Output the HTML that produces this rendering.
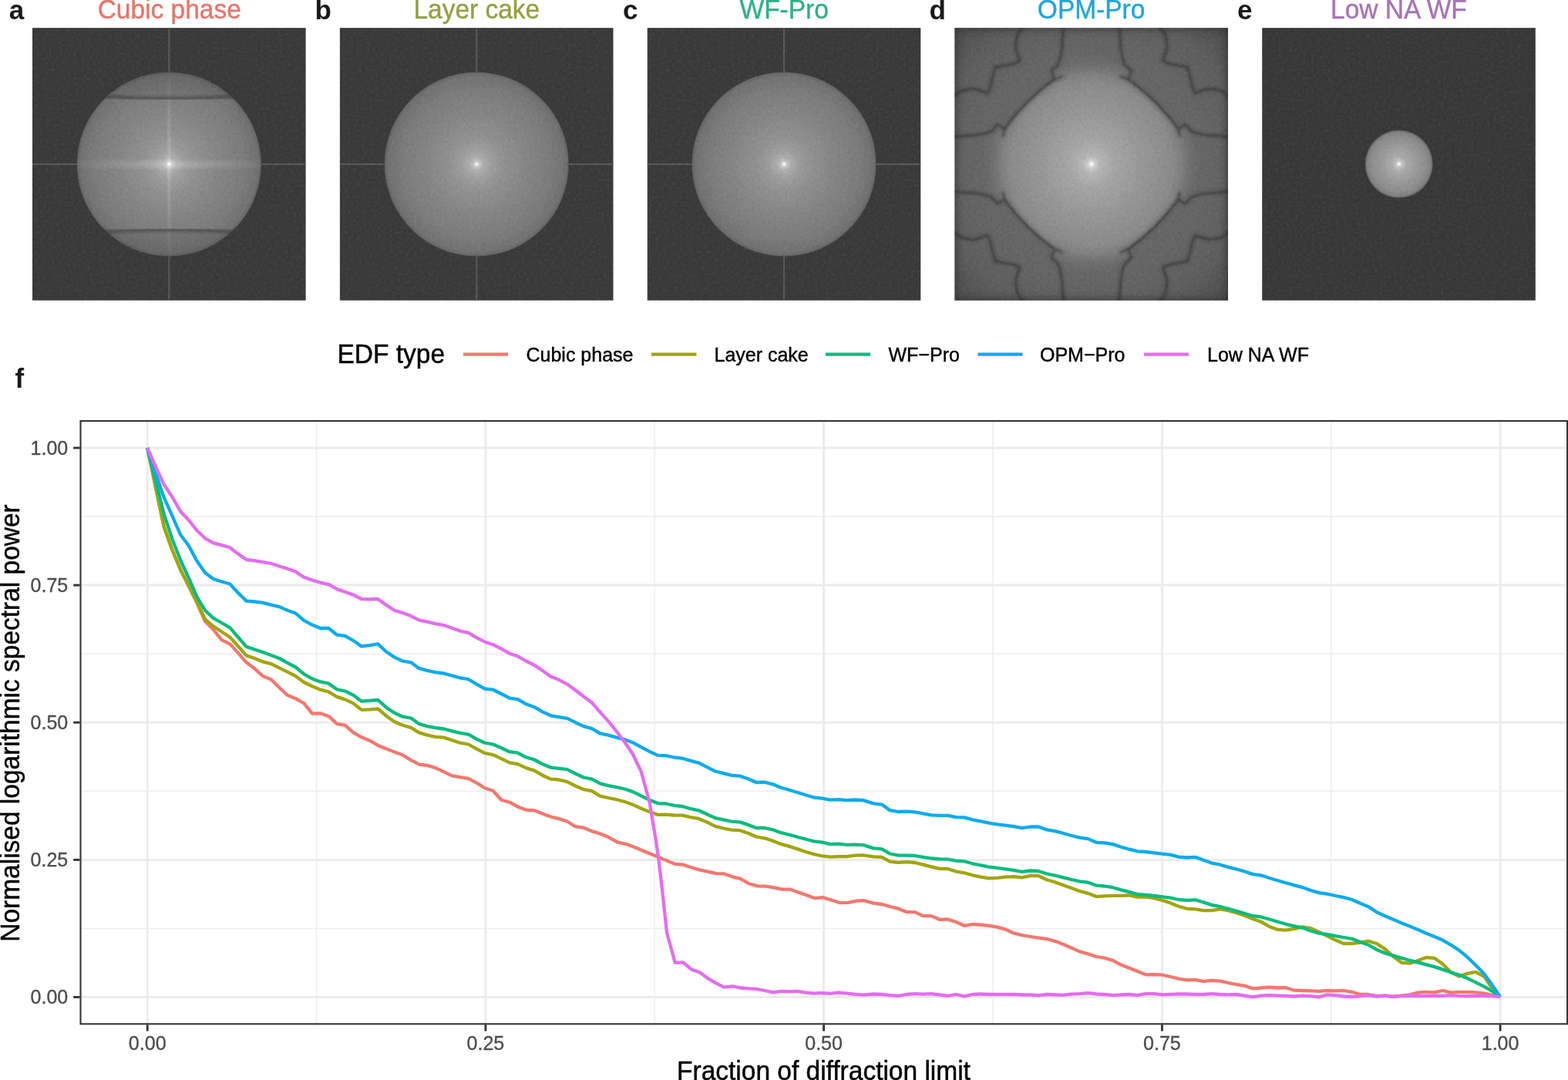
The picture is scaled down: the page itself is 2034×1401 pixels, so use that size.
<!DOCTYPE html>
<html lang="en"><head><meta charset="utf-8"><title>EDF spectral power</title>
<style>html,body{margin:0;padding:0;background:#fff;}body{width:2034px;height:1401px;overflow:hidden;font-family:"Liberation Sans",sans-serif;}svg{display:block;}text{font-family:"Liberation Sans",sans-serif;}</style></head><body>
<svg width="2034" height="1401" viewBox="0 0 2034 1401">
<defs>
<filter id="grain" x="0" y="0" width="100%" height="100%" color-interpolation-filters="sRGB">
<feTurbulence type="fractalNoise" baseFrequency="0.28" numOctaves="2" seed="7" result="n"/>
<feColorMatrix in="n" type="matrix" values="0 0 0 0 0  0 0 0 0 0  0 0 0 0 0  0.13 0 0 0 -0.057" result="dark"/>
<feColorMatrix in="n" type="matrix" values="0 0 0 0 1  0 0 0 0 1  0 0 0 0 1  0 -0.13 0 0 0.071" result="light"/>
<feMerge><feMergeNode in="dark"/><feMergeNode in="light"/></feMerge>
</filter>
<filter id="b1" x="-20%" y="-20%" width="140%" height="140%"><feGaussianBlur stdDeviation="0.8"/></filter>
<filter id="b2" x="-20%" y="-20%" width="140%" height="140%"><feGaussianBlur stdDeviation="2.2"/></filter>
<filter id="b5" x="-20%" y="-20%" width="140%" height="140%"><feGaussianBlur stdDeviation="5"/></filter>
<filter id="b9" x="-30%" y="-30%" width="160%" height="160%"><feGaussianBlur stdDeviation="9"/></filter>
<radialGradient id="gA" cx="0.5" cy="0.5" r="0.5">
<stop offset="0" stop-color="#ffffff"/>
<stop offset="0.012" stop-color="#f0f0f0"/>
<stop offset="0.03" stop-color="#c8c8c8"/>
<stop offset="0.07" stop-color="#b0b0b0"/>
<stop offset="0.16" stop-color="#9e9e9e"/>
<stop offset="0.32" stop-color="#909090"/>
<stop offset="0.55" stop-color="#868686"/>
<stop offset="0.8" stop-color="#7c7c7c"/>
<stop offset="0.95" stop-color="#737373"/>
<stop offset="0.985" stop-color="#6a6a6a"/>
<stop offset="1" stop-color="#585858"/>
</radialGradient>
<radialGradient id="gD" gradientUnits="userSpaceOnUse" cx="177.3" cy="176.8" r="142">
<stop offset="0.0000" stop-color="#ffffff" stop-opacity="1"/>
<stop offset="0.0141" stop-color="#f0f0f0" stop-opacity="1"/>
<stop offset="0.0352" stop-color="#cecece" stop-opacity="1"/>
<stop offset="0.0845" stop-color="#b6b6b6" stop-opacity="1"/>
<stop offset="0.2113" stop-color="#a6a6a6" stop-opacity="1"/>
<stop offset="0.4225" stop-color="#9a9a9a" stop-opacity="1"/>
<stop offset="0.6338" stop-color="#909090" stop-opacity="1"/>
<stop offset="0.7465" stop-color="#8a8a8a" stop-opacity="1"/>
<stop offset="0.8169" stop-color="#868686" stop-opacity="0.82"/>
<stop offset="0.8873" stop-color="#808080" stop-opacity="0.45"/>
<stop offset="0.9437" stop-color="#7c7c7c" stop-opacity="0.18"/>
<stop offset="1.0000" stop-color="#787878" stop-opacity="0"/>
</radialGradient>
<radialGradient id="gDbg" gradientUnits="userSpaceOnUse" cx="177.3" cy="176.8" r="250">
<stop offset="0" stop-color="#6a6a6a"/>
<stop offset="0.6" stop-color="#666666"/>
<stop offset="0.8" stop-color="#5e5e5e"/>
<stop offset="1" stop-color="#4c4c4c"/>
</radialGradient>
<radialGradient id="gE" cx="0.5" cy="0.5" r="0.5">
<stop offset="0" stop-color="#ffffff"/>
<stop offset="0.03" stop-color="#efefef"/>
<stop offset="0.09" stop-color="#c4c4c4"/>
<stop offset="0.22" stop-color="#acacac"/>
<stop offset="0.5" stop-color="#9c9c9c"/>
<stop offset="0.8" stop-color="#8e8e8e"/>
<stop offset="0.94" stop-color="#828282"/>
<stop offset="1" stop-color="#5c5c5c"/>
</radialGradient>
<linearGradient id="hStreak" x1="0" x2="1" y1="0" y2="0">
<stop offset="0" stop-color="#fff" stop-opacity="0.03"/>
<stop offset="0.5" stop-color="#fff" stop-opacity="0.2"/>
<stop offset="1" stop-color="#fff" stop-opacity="0.03"/>
</linearGradient>
<linearGradient id="vStreak" x1="0" x2="0" y1="0" y2="1">
<stop offset="0" stop-color="#fff" stop-opacity="0.03"/>
<stop offset="0.5" stop-color="#fff" stop-opacity="0.2"/>
<stop offset="1" stop-color="#fff" stop-opacity="0.03"/>
</linearGradient>
<clipPath id="clipA"><circle cx="177.3" cy="176.8" r="119.6"/></clipPath>
<clipPath id="clipSq"><rect x="0" y="0" width="354.6" height="353.5"/></clipPath>
<g id="veinHalf" fill="none" stroke-linejoin="round" stroke-linecap="round">
<path d="M62.8,139.4 L64.6,131.8 A290,290 0 0 1 130.2,66.7 L139.4,62.8"/>
<path d="M130.2,66.7 L125.6,55.6 L134.2,47.7 L137.5,37.2 L139.4,24.1 L140.1,10.9 L141.4,0"/>
<path d="M64.6,131.8 L55.6,125.6 L47.7,134.2 L37.2,137.5 L24.1,139.4 L10.9,140.1 L0,141.4"/>
<path d="M52.8,50.8 L65.9,48.4 L76.4,46.4 L84.3,43.1 L83,37.2 L80.3,30.6 L79,24.1 L80.3,13.6 L83,5.7 L88.2,0"/>
<path d="M52.8,50.8 L48.4,65.9 L46.4,76.4 L43.1,84.3 L37.2,83 L30.6,80.3 L24.1,79 L13.6,80.3 L5.7,83 L0,88.2"/>
</g>
<g id="veinQuad">
<use href="#veinHalf" stroke="#202020" stroke-width="6" opacity="0.22" filter="url(#b2)"/>
<use href="#veinHalf" stroke="#242424" stroke-width="1.3" opacity="0.6" filter="url(#b1)"/>
</g>
<clipPath id="clipD"><path d="M24.1,139.4 L37.2,137.5 L47.7,134.2 L55.6,125.6 L64.6,131.8 A290,290 0 0 1 130.2,66.7 L125.6,55.6 L134.2,47.7 L137.5,37.2 L139.4,24.1 L215.2,24.1 L217.1,37.2 L220.4,47.7 L229.0,55.6 L224.4,66.7 A290,290 0 0 1 290.0,131.8 L299.0,125.6 L306.9,134.2 L317.4,137.5 L330.5,139.4 L330.5,214.2 L317.4,216.1 L306.9,219.4 L299.0,228.0 L290.0,221.8 A290,290 0 0 1 224.4,286.9 L229.0,298.0 L220.4,305.9 L217.1,316.4 L215.2,329.5 L139.4,329.5 L137.5,316.4 L134.2,305.9 L125.6,298.0 L130.2,286.9 A290,290 0 0 1 64.6,221.8 L55.6,228.0 L47.7,219.4 L37.2,216.1 L24.1,214.2 Z"/></clipPath>
</defs>

<rect width="2034" height="1401" fill="#fff"/>
<g id="panel-labels" font-weight="bold" font-size="35" fill="#1a1a1a">
<text x="11.8" y="24.6">a</text>
<text x="408.5" y="24.6">b</text>
<text x="808" y="24.6">c</text>
<text x="1205.5" y="24.6">d</text>
<text x="1605" y="24.6">e</text>
<text x="19.5" y="503.2">f</text>
</g>
<g id="panel-titles" font-size="33.5" text-anchor="middle" stroke-width="0.4">
<text transform="translate(219.7,24.2) scale(1,1.05)" fill="#E8756B" stroke="#E8756B">Cubic phase</text>
<text transform="translate(618.3,24.2) scale(1,1.05)" fill="#95A044" stroke="#95A044">Layer cake</text>
<text transform="translate(1017.2,24.2) scale(1,1.05)" fill="#2FB087" stroke="#2FB087">WF-Pro</text>
<text transform="translate(1415.6,24.2) scale(1,1.05)" fill="#1FA6D9" stroke="#1FA6D9">OPM-Pro</text>
<text transform="translate(1814.4,24.2) scale(1,1.05)" fill="#A674B3" stroke="#A674B3">Low NA WF</text>
</g>
<g id="imgA" transform="translate(42,36.2)">
<rect width="354.6" height="353.5" fill="#3a3a3a"/>
<line x1="177.3" x2="177.3" y1="0" y2="353.5" stroke="#5a5a5a" stroke-width="2"/>
<line y1="176.8" y2="176.8" x1="0" x2="354.6" stroke="#5a5a5a" stroke-width="2"/>
<circle cx="177.3" cy="176.8" r="119.6" fill="url(#gA)"/>
<g clip-path="url(#clipA)">
<rect x="57" y="172.5" width="241" height="9" fill="url(#hStreak)" filter="url(#b2)"/>
<rect x="175.3" y="57" width="4" height="240" fill="url(#vStreak)" filter="url(#b1)"/>
<path d="M55,56 H300 V88 Q177.3,96 55,88 Z" fill="#000" opacity="0.08"/>
<path d="M55,297 H300 V265.5 Q177.3,257.5 55,265.5 Z" fill="#000" opacity="0.08"/>
<path d="M66,87 Q177.3,96 289,87" fill="none" stroke="#3c3c3c" stroke-width="5" opacity="0.5" filter="url(#b2)"/>
<path d="M66,266.5 Q177.3,257.5 289,266.5" fill="none" stroke="#3c3c3c" stroke-width="5" opacity="0.5" filter="url(#b2)"/>
<path d="M66,86.5 Q120,92 177.3,92" fill="none" stroke="#444" stroke-width="1.6" opacity="0.5" filter="url(#b1)"/>
<path d="M289,86.5 Q235,92 177.3,92" fill="none" stroke="#444" stroke-width="1.6" opacity="0.5" filter="url(#b1)"/>
<path d="M66,267 Q120,261.5 177.3,261.5" fill="none" stroke="#444" stroke-width="1.6" opacity="0.5" filter="url(#b1)"/>
<path d="M289,267 Q235,261.5 177.3,261.5" fill="none" stroke="#444" stroke-width="1.6" opacity="0.5" filter="url(#b1)"/>
</g>
<rect width="354.6" height="353.5" filter="url(#grain)"/>
</g>
<g id="imgB" transform="translate(440.9,36.2)">
<rect width="354.6" height="353.5" fill="#3a3a3a"/>
<line x1="177.3" x2="177.3" y1="0" y2="353.5" stroke="#5a5a5a" stroke-width="2"/>
<line y1="176.8" y2="176.8" x1="0" x2="354.6" stroke="#5a5a5a" stroke-width="2"/>
<circle cx="177.3" cy="176.8" r="119.6" fill="url(#gA)"/>
<rect width="354.6" height="353.5" filter="url(#grain)"/>
</g>
<g id="imgC" transform="translate(839.7,36.2)">
<rect width="354.6" height="353.5" fill="#3a3a3a"/>
<line x1="177.3" x2="177.3" y1="0" y2="353.5" stroke="#5a5a5a" stroke-width="2"/>
<line y1="176.8" y2="176.8" x1="0" x2="354.6" stroke="#5a5a5a" stroke-width="2"/>
<circle cx="177.3" cy="176.8" r="119.6" fill="url(#gA)"/>
<rect width="354.6" height="353.5" filter="url(#grain)"/>
</g>
<g id="imgD" transform="translate(1238.4,36.2)">
<rect width="354.6" height="353.5" fill="url(#gDbg)"/>
<g clip-path="url(#clipSq)">
<g clip-path="url(#clipD)"><circle cx="177.3" cy="176.8" r="142" fill="url(#gD)"/></g>
<rect x="-6" y="-6" width="366.6" height="365.5" fill="none" stroke="#262626" stroke-width="17" opacity="0.55" filter="url(#b5)"/>
<use href="#veinQuad"/>
<use href="#veinQuad" transform="translate(354.6,0) scale(-1,1)"/>
<use href="#veinQuad" transform="translate(0,353.6) scale(1,-1)"/>
<use href="#veinQuad" transform="translate(354.6,353.6) scale(-1,-1)"/>
</g>
<rect width="354.6" height="353.5" filter="url(#grain)"/>
</g>
<g id="imgE" transform="translate(1637.2,36.2)">
<rect width="354.6" height="353.5" fill="#383838"/>
<circle cx="177.5" cy="176.6" r="44" fill="url(#gE)"/>
<rect width="354.6" height="353.5" filter="url(#grain)"/>
</g>

<g id="legend">
<text transform="translate(437.5,470.8) scale(1,1.04)" font-size="33.5" fill="#000" stroke="#000" stroke-width="0.45">EDF type</text>
<g stroke-width="4.3" fill="none">
<line x1="601" x2="659" y1="459.7" y2="459.7" stroke="#F4776E"/>
<line x1="845" x2="903.5" y1="459.7" y2="459.7" stroke="#A2A50C"/>
<line x1="1071" x2="1129" y1="459.7" y2="459.7" stroke="#0ABC7D"/>
<line x1="1268.5" x2="1326.5" y1="459.7" y2="459.7" stroke="#0AADF2"/>
<line x1="1484" x2="1542" y1="459.7" y2="459.7" stroke="#E46CF0"/>
</g>
<g font-size="25" fill="#000" stroke="#000" stroke-width="0.4">
<text transform="translate(682.5,468.6) scale(1,1.04)">Cubic phase</text>
<text transform="translate(926.5,468.6) scale(1,1.04)">Layer cake</text>
<text transform="translate(1152.5,468.6) scale(1,1.04)">WF−Pro</text>
<text transform="translate(1349,468.6) scale(1,1.04)">OPM−Pro</text>
<text transform="translate(1566,468.6) scale(1,1.04)">Low NA WF</text>
</g>
</g>

<g id="chart">
<line x1="410.6" x2="410.6" y1="545.5" y2="1329.4" stroke="#EEEEEE" stroke-width="1.5"/>
<line y1="1204.4" y2="1204.4" x1="103.8" x2="2034.1" stroke="#EEEEEE" stroke-width="1.5"/>
<line x1="849.3" x2="849.3" y1="545.5" y2="1329.4" stroke="#EEEEEE" stroke-width="1.5"/>
<line y1="1026.3" y2="1026.3" x1="103.8" x2="2034.1" stroke="#EEEEEE" stroke-width="1.5"/>
<line x1="1288.0" x2="1288.0" y1="545.5" y2="1329.4" stroke="#EEEEEE" stroke-width="1.5"/>
<line y1="848.2" y2="848.2" x1="103.8" x2="2034.1" stroke="#EEEEEE" stroke-width="1.5"/>
<line x1="1726.7" x2="1726.7" y1="545.5" y2="1329.4" stroke="#EEEEEE" stroke-width="1.5"/>
<line y1="670.1" y2="670.1" x1="103.8" x2="2034.1" stroke="#EEEEEE" stroke-width="1.5"/>
<line x1="191.2" x2="191.2" y1="545.5" y2="1329.4" stroke="#ECECEC" stroke-width="3"/>
<line y1="1293.5" y2="1293.5" x1="103.8" x2="2034.1" stroke="#ECECEC" stroke-width="3"/>
<line x1="629.9" x2="629.9" y1="545.5" y2="1329.4" stroke="#ECECEC" stroke-width="3"/>
<line y1="1115.4" y2="1115.4" x1="103.8" x2="2034.1" stroke="#ECECEC" stroke-width="3"/>
<line x1="1068.6" x2="1068.6" y1="545.5" y2="1329.4" stroke="#ECECEC" stroke-width="3"/>
<line y1="937.2" y2="937.2" x1="103.8" x2="2034.1" stroke="#ECECEC" stroke-width="3"/>
<line x1="1507.4" x2="1507.4" y1="545.5" y2="1329.4" stroke="#ECECEC" stroke-width="3"/>
<line y1="759.1" y2="759.1" x1="103.8" x2="2034.1" stroke="#ECECEC" stroke-width="3"/>
<line x1="1946.1" x2="1946.1" y1="545.5" y2="1329.4" stroke="#ECECEC" stroke-width="3"/>
<line y1="581.0" y2="581.0" x1="103.8" x2="2034.1" stroke="#ECECEC" stroke-width="3"/>
<polyline points="191.2,581.0 201.9,632.0 212.6,683.0 223.3,713.0 234.0,738.7 244.7,760.0 255.4,782.0 266.1,806.2 276.8,816.8 287.6,830.1 298.2,835.4 308.8,846.9 319.6,859.3 330.3,867.3 340.9,877.0 351.7,881.4 362.3,892.0 372.9,901.8 383.5,906.2 394.3,912.4 405.0,925.7 415.6,925.3 426.4,929.2 437.0,938.9 447.6,940.9 458.2,950.1 468.8,956.3 479.6,960.7 490.3,966.9 500.9,971.3 511.7,975.4 522.3,979.3 532.9,985.8 543.7,991.7 554.3,992.9 565.0,996.1 575.6,1001.1 586.4,1006.4 597.0,1008.1 607.6,1009.9 618.4,1015.6 629.0,1022.3 639.6,1025.8 650.3,1037.7 661.1,1040.7 671.7,1046.5 682.3,1050.6 693.1,1051.3 703.7,1055.4 714.3,1059.5 725.0,1062.1 735.8,1065.5 746.4,1072.2 757.0,1073.6 767.8,1078.4 778.4,1081.4 789.0,1085.8 801.2,1092.7 811.9,1094.8 822.5,1098.7 833.1,1103.3 843.7,1107.5 854.3,1112.1 865.0,1116.4 875.6,1120.8 886.2,1121.7 896.8,1125.2 907.4,1128.4 918.1,1130.7 928.7,1133.2 939.3,1133.4 949.9,1137.3 960.5,1139.9 972.0,1146.5 982.7,1149.3 993.3,1149.6 1003.9,1151.4 1014.5,1153.7 1025.1,1153.7 1035.8,1157.6 1046.4,1161.2 1057.0,1165.2 1067.6,1164.2 1079.1,1167.7 1089.7,1171.2 1100.4,1170.9 1111.0,1168.6 1120.7,1168.2 1133.1,1171.6 1143.9,1173.0 1154.5,1176.0 1165.3,1178.7 1175.9,1183.1 1186.7,1183.1 1197.3,1188.1 1208.1,1188.1 1218.8,1192.8 1229.4,1192.5 1240.2,1196.0 1250.8,1200.8 1261.6,1199.0 1272.2,1199.6 1283.0,1200.8 1293.6,1202.6 1304.4,1205.6 1315.0,1210.5 1325.8,1213.2 1336.5,1215.0 1347.3,1216.7 1357.9,1218.0 1368.5,1220.8 1379.3,1225.0 1389.9,1229.6 1400.7,1234.4 1411.3,1237.4 1422.1,1241.0 1432.7,1242.7 1443.5,1245.9 1454.2,1251.6 1465.0,1255.7 1475.6,1260.1 1486.2,1264.3 1497.0,1264.2 1507.6,1264.7 1518.4,1267.0 1529.0,1269.6 1539.8,1271.4 1550.4,1270.9 1561.2,1273.2 1571.9,1271.8 1582.7,1272.7 1593.3,1275.0 1604.1,1277.1 1614.7,1278.8 1625.3,1282.4 1636.1,1281.5 1646.7,1280.6 1657.5,1281.5 1668.1,1281.2 1678.9,1284.7 1689.6,1285.0 1700.2,1285.4 1711.0,1285.9 1721.6,1285.0 1732.4,1285.4 1743.0,1285.0 1753.8,1286.8 1764.4,1290.0 1775.2,1290.0 1785.9,1292.1 1796.7,1291.6 1807.3,1292.7 1818.1,1291.6 1828.7,1290.4 1839.3,1287.7 1850.1,1286.8 1860.7,1287.3 1871.5,1285.0 1882.1,1287.7 1892.9,1286.8 1903.6,1286.8 1914.4,1287.3 1925.0,1288.6 1935.8,1291.2 1946.1,1293.2" fill="none" stroke="#F4776E" stroke-width="4.3" stroke-linejoin="round" stroke-linecap="butt"/>
<polyline points="191.2,581.0 201.9,632.0 212.6,683.0 223.3,713.0 234.0,738.7 244.7,759.8 255.4,781.0 266.1,803.5 276.8,812.4 287.6,819.5 298.2,826.5 308.8,838.1 319.6,850.4 330.3,854.0 340.9,858.4 351.7,861.1 362.3,866.4 372.9,871.7 383.5,877.0 394.3,885.0 405.0,890.3 415.6,894.7 426.4,897.3 437.0,903.9 447.6,907.4 458.4,912.4 469.0,920.9 479.6,920.4 490.3,919.5 501.1,928.7 511.7,936.3 522.3,940.7 533.1,943.9 543.5,950.4 554.3,953.6 565.0,955.8 575.6,956.6 586.4,960.2 597.0,963.7 607.6,965.5 618.4,971.7 629.0,977.0 639.6,979.1 650.3,984.1 661.1,989.4 671.7,991.2 682.3,996.1 693.1,999.6 703.7,1005.7 714.3,1010.6 725.0,1011.5 735.8,1014.2 746.4,1019.5 757.0,1023.9 767.8,1026.2 778.4,1032.7 789.0,1035.0 799.6,1037.2 810.4,1040.0 821.1,1043.9 831.7,1048.8 842.5,1053.1 853.1,1056.8 863.7,1056.6 874.3,1057.5 885.1,1057.7 895.8,1060.2 906.4,1061.9 917.2,1066.5 927.8,1071.9 938.4,1074.5 949.2,1076.6 959.8,1077.2 970.4,1080.7 981.1,1085.5 991.9,1087.3 1002.5,1090.8 1013.1,1094.9 1023.9,1097.9 1034.5,1101.4 1045.1,1105.0 1055.8,1108.1 1066.5,1110.3 1077.2,1111.7 1087.8,1111.2 1098.6,1111.2 1109.2,1109.7 1119.8,1109.4 1133.1,1111.4 1143.9,1111.8 1154.5,1117.6 1165.3,1118.8 1175.9,1118.1 1186.7,1119.0 1197.3,1121.7 1208.1,1124.3 1218.8,1126.8 1229.4,1127.0 1240.2,1130.5 1250.8,1132.3 1261.6,1135.3 1272.2,1137.6 1283.0,1139.4 1293.6,1138.8 1304.4,1137.6 1315.0,1137.1 1325.8,1138.3 1336.5,1136.2 1347.3,1136.2 1357.9,1141.2 1368.5,1144.2 1379.3,1148.2 1389.9,1152.1 1400.7,1156.0 1411.3,1158.8 1422.1,1163.1 1432.7,1162.4 1443.5,1161.9 1454.2,1161.9 1465.0,1161.3 1475.6,1163.6 1486.2,1163.5 1497.0,1165.2 1507.6,1167.9 1518.4,1171.4 1529.0,1175.8 1539.8,1178.8 1550.4,1179.4 1561.2,1181.2 1571.9,1181.2 1582.7,1179.4 1593.3,1181.2 1604.1,1184.2 1614.7,1187.7 1625.3,1192.1 1636.1,1196.0 1646.7,1201.9 1657.5,1205.9 1668.1,1206.6 1678.9,1204.9 1689.6,1202.4 1700.2,1204.2 1711.0,1208.9 1721.6,1214.2 1732.4,1219.6 1743.0,1224.0 1753.8,1224.0 1764.4,1222.6 1775.2,1220.8 1785.9,1224.0 1796.7,1231.1 1807.3,1240.8 1818.1,1248.8 1828.7,1249.6 1839.3,1246.1 1850.1,1242.0 1860.7,1242.9 1871.5,1250.5 1882.1,1261.2 1892.9,1266.5 1903.6,1262.9 1914.4,1260.8 1925.0,1266.5 1935.8,1282.4 1946.1,1293.2" fill="none" stroke="#A2A50C" stroke-width="4.3" stroke-linejoin="round" stroke-linecap="butt"/>
<polyline points="191.2,581.0 201.9,623.5 212.6,666.5 223.3,699.0 234.0,726.3 244.7,749.5 255.4,774.0 266.1,792.0 276.8,801.8 287.6,808.0 298.2,814.2 308.8,826.5 319.6,838.9 330.3,842.5 340.9,846.0 351.7,850.1 362.3,854.0 372.9,859.8 383.5,865.5 394.3,874.3 405.0,880.5 415.6,884.4 426.4,886.7 437.0,894.3 447.6,896.5 458.4,901.8 469.0,909.7 479.6,908.8 490.3,908.0 501.1,917.7 511.7,924.8 522.3,929.7 533.1,931.5 543.5,938.9 554.3,942.1 565.0,944.2 575.6,945.5 586.4,948.3 597.0,950.8 607.6,952.6 618.4,958.8 629.0,963.7 639.6,965.5 650.3,970.3 661.1,975.2 671.7,976.6 682.3,982.3 693.1,985.5 703.7,991.2 714.3,995.6 725.0,996.8 735.8,998.2 746.4,1003.5 757.0,1008.5 767.8,1010.6 778.4,1016.3 789.0,1019.1 799.6,1021.2 810.4,1023.5 821.1,1027.1 831.7,1032.4 842.5,1037.7 853.1,1042.1 863.7,1042.5 874.3,1044.8 885.1,1046.0 895.8,1049.2 906.4,1051.3 917.2,1056.3 927.8,1061.1 938.4,1063.4 949.2,1065.7 959.8,1066.4 970.4,1069.9 981.1,1074.0 991.9,1074.0 1002.5,1076.3 1013.1,1080.2 1023.9,1082.8 1034.5,1085.8 1045.1,1088.5 1055.8,1091.3 1066.5,1092.6 1077.2,1095.2 1087.8,1094.7 1098.6,1095.8 1109.2,1095.6 1119.8,1096.1 1133.1,1100.4 1143.9,1101.3 1154.5,1107.5 1165.3,1109.6 1175.9,1109.6 1186.7,1110.0 1197.3,1111.8 1208.1,1113.5 1218.8,1114.4 1229.4,1114.6 1240.2,1116.7 1250.8,1117.3 1261.6,1120.3 1272.2,1122.4 1283.0,1124.7 1293.6,1125.9 1304.4,1127.3 1315.0,1128.8 1325.8,1130.9 1336.5,1129.5 1347.3,1130.0 1357.9,1133.5 1368.5,1135.7 1379.3,1138.3 1389.9,1141.0 1400.7,1143.3 1411.3,1144.7 1422.1,1148.6 1432.7,1149.5 1443.5,1151.2 1454.2,1154.4 1465.0,1157.1 1475.6,1160.1 1486.2,1160.8 1497.0,1162.0 1507.6,1163.3 1518.4,1164.7 1529.0,1167.0 1539.8,1167.9 1550.4,1167.3 1561.2,1170.4 1571.9,1173.9 1582.7,1176.2 1593.3,1178.8 1604.1,1181.9 1614.7,1185.0 1625.3,1188.2 1636.1,1189.5 1646.7,1192.5 1657.5,1195.7 1668.1,1198.8 1678.9,1201.3 1689.6,1203.6 1700.2,1207.5 1711.0,1210.7 1721.6,1212.1 1732.4,1214.2 1743.0,1216.0 1753.8,1217.8 1764.4,1221.9 1775.2,1225.8 1785.9,1231.9 1796.7,1236.4 1807.3,1239.6 1818.1,1242.9 1828.7,1245.8 1839.3,1248.4 1850.1,1251.4 1860.7,1254.1 1871.5,1257.6 1882.1,1261.2 1892.9,1264.7 1903.6,1269.1 1914.4,1274.4 1925.0,1279.7 1935.8,1285.9 1946.1,1293.2" fill="none" stroke="#0ABC7D" stroke-width="4.3" stroke-linejoin="round" stroke-linecap="butt"/>
<polyline points="191.2,581.0 201.9,613.8 212.6,645.2 223.3,668.8 234.0,693.5 244.7,707.8 255.4,727.8 266.1,743.1 276.8,751.0 287.6,754.5 298.2,757.5 308.8,769.0 319.6,779.6 330.3,780.5 340.9,781.8 351.7,784.6 362.3,787.1 372.9,791.7 383.5,795.6 394.3,804.8 405.0,810.6 415.6,815.0 426.4,815.0 437.0,823.5 447.6,824.8 458.4,831.0 469.0,838.4 479.6,837.2 490.3,835.4 501.1,845.5 511.7,852.6 522.3,857.5 533.1,859.3 543.5,866.9 554.3,869.9 565.0,872.2 575.6,873.5 586.4,876.5 597.0,879.3 607.6,881.1 618.4,887.6 629.0,893.5 639.6,894.7 650.3,900.0 661.1,905.7 671.7,907.1 682.3,913.3 693.1,917.2 703.7,923.4 714.3,928.3 725.0,930.1 735.8,931.9 746.4,937.2 757.0,942.1 767.8,945.1 778.4,951.3 789.0,953.6 799.6,956.6 810.4,959.3 821.1,963.4 831.7,969.2 842.5,974.9 853.1,979.8 863.7,980.2 874.3,982.5 885.1,983.7 895.8,986.9 906.4,989.6 917.2,995.2 927.8,1000.5 938.4,1003.2 949.2,1005.8 959.8,1006.7 970.4,1010.3 981.1,1015.0 991.9,1014.7 1002.5,1017.3 1013.1,1021.8 1023.9,1024.8 1034.5,1028.0 1045.1,1031.2 1055.8,1034.5 1066.5,1035.6 1077.2,1037.7 1087.8,1037.2 1098.6,1038.1 1109.2,1037.5 1119.8,1038.1 1133.1,1042.4 1143.9,1043.6 1154.5,1051.2 1165.3,1053.0 1175.9,1052.7 1186.7,1053.4 1197.3,1055.3 1208.1,1057.4 1218.8,1057.8 1229.4,1057.8 1240.2,1060.1 1250.8,1060.4 1261.6,1063.3 1272.2,1065.4 1283.0,1067.7 1293.6,1069.3 1304.4,1070.7 1315.0,1072.1 1325.8,1074.2 1336.5,1072.5 1347.3,1072.5 1357.9,1076.4 1368.5,1078.1 1379.3,1081.0 1389.9,1084.0 1400.7,1086.6 1411.3,1088.1 1422.1,1092.8 1432.7,1093.4 1443.5,1095.1 1454.2,1098.7 1465.0,1101.7 1475.6,1104.3 1486.2,1105.0 1497.0,1106.3 1507.6,1107.7 1518.4,1108.9 1529.0,1111.6 1539.8,1112.5 1550.4,1111.9 1561.2,1115.7 1571.9,1119.6 1582.7,1121.7 1593.3,1124.9 1604.1,1127.5 1614.7,1130.5 1625.3,1134.1 1636.1,1135.5 1646.7,1139.0 1657.5,1142.2 1668.1,1145.2 1678.9,1148.4 1689.6,1151.1 1700.2,1155.0 1711.0,1158.1 1721.6,1159.7 1732.4,1162.0 1743.0,1164.2 1753.8,1167.0 1764.4,1171.8 1775.2,1176.2 1785.9,1183.3 1796.7,1188.2 1807.3,1192.7 1818.1,1197.4 1828.7,1201.5 1839.3,1205.9 1850.1,1210.7 1860.7,1215.1 1871.5,1219.6 1882.1,1225.8 1892.9,1232.8 1903.6,1241.7 1914.4,1252.3 1925.0,1262.9 1935.8,1278.0 1946.1,1293.2" fill="none" stroke="#0CABEE" stroke-width="4.3" stroke-linejoin="round" stroke-linecap="butt"/>
<polyline points="191.2,581.0 202.1,605.7 212.8,628.8 223.5,644.9 234.2,663.5 245.0,674.9 255.7,688.5 266.4,698.5 276.8,704.4 287.6,707.1 298.2,710.3 308.8,718.6 319.6,726.0 330.3,727.4 340.9,729.2 351.7,731.0 362.3,734.5 372.9,737.7 383.5,741.6 394.3,748.7 405.0,752.6 415.6,755.8 426.4,758.1 437.0,764.1 447.6,767.8 458.4,771.7 469.0,777.0 479.6,777.3 490.3,777.0 501.1,785.0 511.7,791.7 522.3,795.0 533.1,799.1 543.5,804.4 554.3,806.7 565.0,809.2 575.6,811.0 586.4,814.7 597.0,818.6 607.6,820.9 618.4,827.4 629.0,832.7 639.6,836.3 650.3,841.6 661.1,847.8 671.7,851.3 682.3,857.5 693.1,862.8 703.7,869.9 714.3,877.5 725.0,881.8 735.8,887.6 746.4,895.2 757.0,903.5 767.8,911.5 778.4,923.9 789.0,935.4 799.6,948.7 810.4,962.8 821.1,978.8 831.7,1000.9 842.5,1040.4 850.8,1089.9 854.3,1114.2 857.9,1144.3 861.4,1176.2 865.0,1209.8 870.3,1229.3 875.6,1248.8 886.2,1248.4 896.8,1257.6 907.4,1261.2 918.1,1269.1 928.7,1275.3 939.3,1280.6 949.9,1279.4 960.5,1281.5 971.2,1282.4 981.1,1282.9 991.9,1285.0 1002.5,1287.3 1013.1,1285.9 1023.9,1286.3 1034.5,1285.9 1045.1,1287.7 1055.8,1288.6 1066.5,1288.1 1077.2,1288.9 1087.8,1287.7 1098.6,1288.6 1109.2,1289.8 1119.8,1290.7 1122.5,1290.5 1133.1,1289.5 1143.9,1290.0 1154.5,1291.2 1165.3,1291.8 1175.9,1290.0 1186.7,1289.1 1197.3,1289.6 1208.1,1289.1 1218.8,1290.5 1229.4,1291.8 1240.2,1290.0 1250.8,1292.3 1261.6,1290.0 1272.2,1289.5 1283.0,1290.0 1293.6,1290.0 1304.4,1290.0 1315.0,1290.0 1325.8,1290.5 1336.5,1290.5 1347.3,1291.4 1357.9,1290.0 1368.5,1290.5 1379.3,1290.9 1389.9,1289.6 1400.7,1289.1 1411.3,1288.2 1422.1,1289.5 1432.7,1290.0 1443.5,1291.2 1454.2,1290.5 1465.0,1290.0 1475.6,1291.2 1486.2,1289.1 1497.0,1289.1 1507.6,1290.4 1518.4,1289.8 1529.0,1289.5 1539.8,1289.5 1550.4,1290.0 1561.2,1290.0 1571.9,1289.1 1582.7,1290.0 1593.3,1290.4 1604.1,1290.0 1614.7,1291.6 1625.3,1293.4 1636.1,1291.6 1646.7,1291.2 1657.5,1291.6 1668.1,1291.8 1678.9,1292.5 1689.6,1291.6 1700.2,1292.1 1711.0,1293.4 1721.6,1290.4 1732.4,1291.2 1743.0,1292.5 1753.8,1293.0 1764.4,1292.1 1775.2,1291.2 1785.9,1292.5 1796.7,1291.6 1807.3,1293.0 1818.1,1291.8 1828.7,1291.6 1839.3,1292.1 1850.1,1291.8 1860.7,1291.6 1871.5,1291.8 1882.1,1291.2 1892.9,1291.8 1903.6,1292.1 1914.4,1291.8 1925.0,1291.6 1935.8,1292.1 1946.1,1293.2" fill="none" stroke="#E46CF0" stroke-width="4.3" stroke-linejoin="round" stroke-linecap="butt"/>
<rect x="104.5" y="546.1" width="1928.6" height="782.2" fill="none" stroke="#333333" stroke-width="2.1"/>
<line x1="191.2" x2="191.2" y1="1329.3" y2="1337.6" stroke="#333333" stroke-width="2.9"/>
<line y1="1293.5" y2="1293.5" x1="95.2" x2="103.5" stroke="#333333" stroke-width="2.9"/>
<text transform="translate(191.2,1362.2) scale(1,1.0)" font-size="25" fill="#4D4D4D" stroke="#4D4D4D" stroke-width="0.35" text-anchor="middle">0.00</text>
<text transform="translate(88.2,1302.3) scale(1,1.0)" font-size="25" fill="#4D4D4D" stroke="#4D4D4D" stroke-width="0.35" text-anchor="end">0.00</text>
<line x1="629.9" x2="629.9" y1="1329.3" y2="1337.6" stroke="#333333" stroke-width="2.9"/>
<line y1="1115.4" y2="1115.4" x1="95.2" x2="103.5" stroke="#333333" stroke-width="2.9"/>
<text transform="translate(629.9,1362.2) scale(1,1.0)" font-size="25" fill="#4D4D4D" stroke="#4D4D4D" stroke-width="0.35" text-anchor="middle">0.25</text>
<text transform="translate(88.2,1124.2) scale(1,1.0)" font-size="25" fill="#4D4D4D" stroke="#4D4D4D" stroke-width="0.35" text-anchor="end">0.25</text>
<line x1="1068.6" x2="1068.6" y1="1329.3" y2="1337.6" stroke="#333333" stroke-width="2.9"/>
<line y1="937.2" y2="937.2" x1="95.2" x2="103.5" stroke="#333333" stroke-width="2.9"/>
<text transform="translate(1068.6,1362.2) scale(1,1.0)" font-size="25" fill="#4D4D4D" stroke="#4D4D4D" stroke-width="0.35" text-anchor="middle">0.50</text>
<text transform="translate(88.2,946.0) scale(1,1.0)" font-size="25" fill="#4D4D4D" stroke="#4D4D4D" stroke-width="0.35" text-anchor="end">0.50</text>
<line x1="1507.4" x2="1507.4" y1="1329.3" y2="1337.6" stroke="#333333" stroke-width="2.9"/>
<line y1="759.1" y2="759.1" x1="95.2" x2="103.5" stroke="#333333" stroke-width="2.9"/>
<text transform="translate(1507.4,1362.2) scale(1,1.0)" font-size="25" fill="#4D4D4D" stroke="#4D4D4D" stroke-width="0.35" text-anchor="middle">0.75</text>
<text transform="translate(88.2,767.9) scale(1,1.0)" font-size="25" fill="#4D4D4D" stroke="#4D4D4D" stroke-width="0.35" text-anchor="end">0.75</text>
<line x1="1946.1" x2="1946.1" y1="1329.3" y2="1337.6" stroke="#333333" stroke-width="2.9"/>
<line y1="581.0" y2="581.0" x1="95.2" x2="103.5" stroke="#333333" stroke-width="2.9"/>
<text transform="translate(1946.1,1362.2) scale(1,1.0)" font-size="25" fill="#4D4D4D" stroke="#4D4D4D" stroke-width="0.35" text-anchor="middle">1.00</text>
<text transform="translate(88.2,589.8) scale(1,1.0)" font-size="25" fill="#4D4D4D" stroke="#4D4D4D" stroke-width="0.35" text-anchor="end">1.00</text>
<text transform="translate(1068.5,1401) scale(1,1.04)" font-size="33.5" fill="#000" stroke="#000" stroke-width="0.45" text-anchor="middle">Fraction of diffraction limit</text>
<text transform="translate(25.2,938) rotate(-90) scale(1,1.04)" font-size="33.5" fill="#000" stroke="#000" stroke-width="0.45" text-anchor="middle">Normalised logarithmic spectral power</text>
</g>
</svg></body></html>
